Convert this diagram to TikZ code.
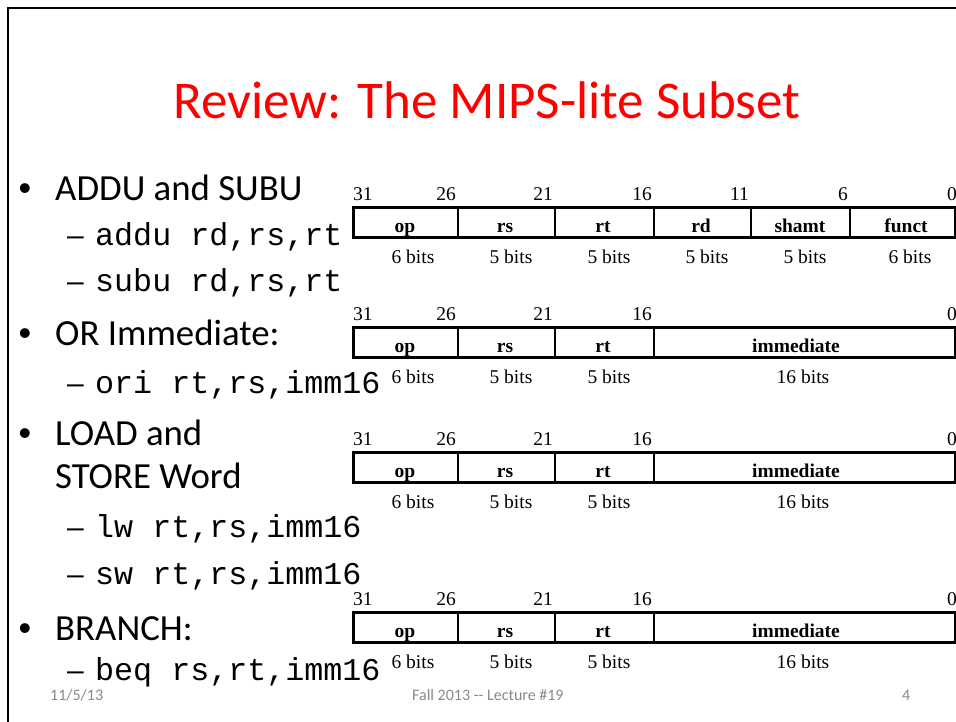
\documentclass[tikz,border=0pt]{standalone}
\usepackage{fontspec}
\setmainfont{Carlito}
\newfontfamily\codefont{Liberation Mono}
\newfontfamily\serifnum{Liberation Serif}
\newfontfamily\markfont{Liberation Sans}
\definecolor{titlered}{RGB}{255,0,0}
\definecolor{footgray}{RGB}{137,137,137}
\begin{document}
\begin{tikzpicture}[x=1pt,y=-1pt,
  slidetitle/.style={font=\fontsize{53}{60}\selectfont, text=titlered, anchor=base, inner sep=0},
  lvlone/.style={font=\fontsize{36.8}{44}\selectfont, anchor=base west, inner sep=0},
  bulletmark/.style={font=\markfont\fontsize{36}{44}\selectfont, anchor=base, inner sep=0},
  dashmark/.style={font=\markfont\fontsize{30}{36}\selectfont, anchor=base west, inner sep=0},
  codeline/.style={font=\codefont\fontsize{31.7}{38}\selectfont, anchor=base west, inner sep=0},
  bitnum/.style={font=\serifnum\fontsize{19.5}{22}\selectfont, inner sep=0},
  fieldname/.style={font=\serifnum\bfseries\fontsize{19.5}{22}\selectfont, anchor=base, inner sep=0},
  widthlbl/.style={font=\serifnum\fontsize{19.5}{22}\selectfont, anchor=base, inner sep=0},
  outerbox/.style={line width=3pt, line join=miter},
  divider/.style={line width=2pt},
  footer/.style={font=\fontsize{16}{19}\selectfont, text=footgray, anchor=base west, inner sep=0}
]
\useasboundingbox (0,0) rectangle (956,721);

% slide frame (top and left edges)
\draw[line width=2.5pt, line join=miter] (8,722) -- (8,8) -- (957,8);

% title
\node[slidetitle] (title) at (487,118) {Review: The MIPS-lite Subset};

% bullet list
\node[bulletmark] (b1) at (25,200) {•};
\node[lvlone] (addsub) at (55,200) {ADDU and SUBU};
\node[dashmark] (d1) at (67,245) {–};
\node[codeline] (addu) at (95,245) {addu rd,rs,rt};
\node[dashmark] (d2) at (67,291) {–};
\node[codeline] (subu) at (95,291) {subu rd,rs,rt};

\node[bulletmark] (b2) at (25,345) {•};
\node[lvlone] (ori) at (55,345) {OR Immediate:};
\node[dashmark] (d3) at (67,393) {–};
\node[codeline] (oric) at (95,393) {ori rt,rs,imm16};

\node[bulletmark] (b3) at (25,445) {•};
\node[lvlone] (load) at (55,445) {LOAD and};
\node[lvlone] (store) at (55,488) {STORE Word};
\node[dashmark] (d4) at (67,537) {–};
\node[codeline] (lw) at (95,537) {lw rt,rs,imm16};
\node[dashmark] (d5) at (67,584) {–};
\node[codeline] (sw) at (95,584) {sw rt,rs,imm16};

\node[bulletmark] (b4) at (25,640) {•};
\node[lvlone] (branch) at (55,640) {BRANCH:};
\node[dashmark] (d6) at (67,680) {–};
\node[codeline] (beq) at (95,680) {beq rs,rt,imm16};

% instruction formats: common op / rs / rt part
\foreach \t/\k in {207/r,327/i,452/m,612/b} {
  \draw[outerbox] (353,\t) rectangle (955,\t+30);
  \foreach \x in {458,555,654} \draw[divider] (\x,\t) -- (\x,\t+30);
  \node[bitnum, anchor=base west] (\k31) at (353,\t-7) {31};
  \node[bitnum, anchor=base east] (\k26) at (456,\t-7) {26};
  \node[bitnum, anchor=base east] (\k21) at (553,\t-7) {21};
  \node[bitnum, anchor=base east] (\k16) at (652,\t-7) {16};
  \node[bitnum, anchor=base east] (\k0) at (957,\t-7) {0};
  \node[fieldname] (\k op) at (405,\t+25) {op};
  \node[fieldname] (\k rs) at (505,\t+25) {rs};
  \node[fieldname] (\k rt) at (603,\t+25) {rt};
  \node[widthlbl] (\k w1) at (413,\t+56) {6 bits};
  \node[widthlbl] (\k w2) at (511,\t+56) {5 bits};
  \node[widthlbl] (\k w3) at (609,\t+56) {5 bits};
}

% R-type: rd / shamt / funct
\foreach \x in {751,850} \draw[divider] (\x,207) -- (\x,237);
\node[bitnum, anchor=base east] (r11) at (749,200) {11};
\node[bitnum, anchor=base east] (r6) at (848,200) {6};
\node[fieldname] (rrd) at (701,232) {rd};
\node[fieldname] (rshamt) at (800,232) {shamt};
\node[fieldname] (rfunct) at (906,232) {funct};
\node[widthlbl] (rw4) at (707,263) {5 bits};
\node[widthlbl] (rw5) at (805,263) {5 bits};
\node[widthlbl] (rw6) at (910,263) {6 bits};

% I-type: 16-bit immediate
\foreach \t/\k in {327/i,452/m,612/b} {
  \node[fieldname] (\k imm) at (796,\t+25) {immediate};
  \node[widthlbl] (\k w4) at (803,\t+56) {16 bits};
}

% footer
\node[footer] (date) at (50,700) {11/5/13};
\node[footer] (course) at (412,700) {Fall 2013 -{}- Lecture \#19};
\node[footer] (page) at (902,700) {4};
\end{tikzpicture}
\end{document}
